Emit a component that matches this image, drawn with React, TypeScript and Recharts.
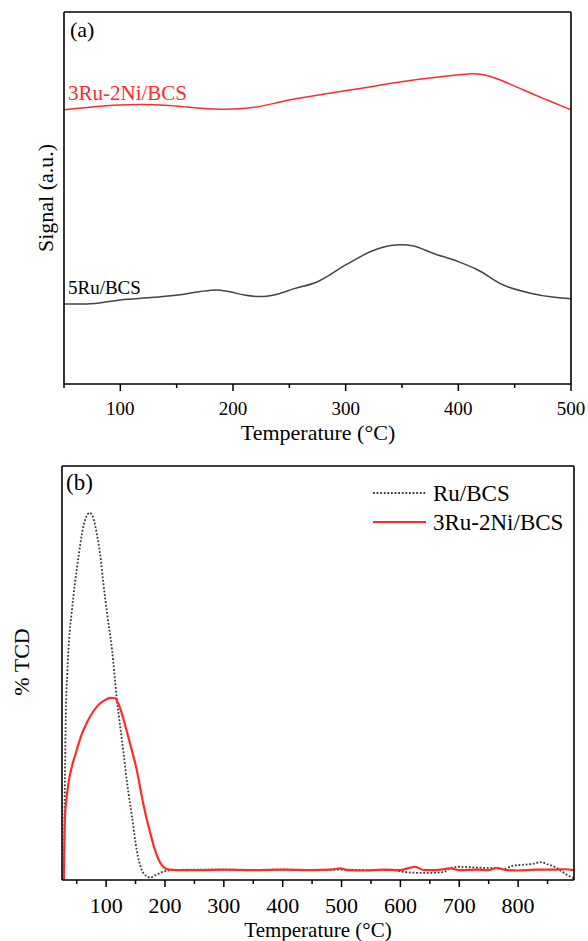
import React from 'react';
import { LineChart, Line, XAxis, YAxis, Legend } from 'recharts';

// (a) upper panel: signal vs temperature (arbitrary units, 0-100 box height)
const tempRedA = [50, 75, 100, 120, 140, 160, 175, 190, 205, 224, 242, 260, 277, 295, 313, 330, 348, 375, 400, 412, 422, 434, 458, 475, 500];
const signalRedA = [73.7, 74.5, 75.1, 75.2, 75.0, 74.4, 74.0, 73.85, 73.9, 74.5, 75.9, 76.9, 77.8, 78.6, 79.4, 80.3, 81.2, 82.3, 83.1, 83.5, 83.3, 82.2, 79.0, 76.8, 73.7];

const tempBlackA = [50, 70, 100, 130, 153, 170, 185, 197, 210, 224, 240, 253, 275, 300, 324, 340, 350, 360, 378, 400, 417, 440, 464, 485, 500];
const signalBlackA = [21.5, 21.5, 22.6, 23.3, 24.0, 24.8, 25.3, 24.8, 23.9, 23.5, 24.2, 25.5, 27.5, 32.0, 35.8, 37.2, 37.4, 37.1, 35.1, 32.9, 30.7, 26.6, 24.4, 23.3, 22.9];

const ticksA = [50, 100, 150, 200, 250, 300, 350, 400, 450, 500];

// (b) lower panel: % TCD vs temperature
const tempRuB = [28, 30, 31.5, 34, 37, 41, 47, 53, 59, 65, 72, 78, 84, 90, 95, 102, 110, 118, 129, 136, 144, 152, 160, 168, 175, 186, 197, 214, 250, 300, 350, 400, 450, 500, 550, 583, 600, 617, 645, 673, 685, 700, 730, 764, 775, 790, 810, 825, 838, 850, 866, 880, 895];
const tcdRuB = [0, 25, 40, 50, 58, 64, 71.7, 78, 83.7, 87.3, 88.7, 87.5, 83.7, 78.5, 72, 64, 55.6, 44, 31.4, 23, 15.3, 7.2, 2.6, 1.0, 0.6, 1.3, 2.0, 2.4, 2.5, 2.5, 2.4, 2.5, 2.4, 2.5, 2.4, 2.4, 2.1, 1.8, 1.7, 1.9, 2.9, 3.2, 3.0, 2.8, 2.6, 3.4, 3.7, 3.9, 4.3, 3.8, 2.9, 1.5, 0.4];

const tempNiB = [28, 29, 30, 33, 36, 42, 50, 58, 67, 78, 90, 100, 107, 115, 120, 126.5, 133, 140.6, 152, 163, 175, 186, 197, 207, 220, 260, 300, 350, 400, 450, 480, 498, 510, 540, 570, 600, 625, 640, 660, 685, 700, 730, 750, 764, 780, 800, 830, 860, 880, 895];
const tcdNiB = [0, 8, 15.3, 20, 23.4, 27.5, 31.4, 35, 37.9, 40.7, 42.7, 43.6, 44.0, 43.9, 42.8, 40.3, 37, 33.0, 26.6, 18.5, 11.3, 6.0, 3.2, 2.5, 2.4, 2.4, 2.5, 2.4, 2.5, 2.4, 2.5, 2.8, 2.4, 2.3, 2.5, 2.4, 3.2, 2.4, 2.4, 2.8, 2.4, 2.5, 2.4, 2.9, 2.4, 2.3, 2.5, 2.5, 2.6, 2.4];

const ticksB = [50, 100, 150, 200, 250, 300, 350, 400, 450, 500, 550, 600, 650, 700, 750, 800, 850];

const FONT = 'Liberation Serif, DejaVu Serif, serif';
const RED = '#ff2a2a';
const DARK = '#444444';
const DOT = '#3a3a3a';

const toPoints = (xs: number[], ys: number[]) => xs.map((t, i) => ({ t, v: ys[i] }));

const makeTick = (fontSize: number, gap: number) => (props: any) => {
  const { x, y, payload } = props;
  const major = payload.value % 100 === 0;
  return (
    <g>
      <line x1={x} x2={x} y1={y} y2={y + (major ? 7 : 4)} stroke="#000" strokeWidth={1.5} />
      {major && (
        <text x={x} y={y + gap} textAnchor="middle" dominantBaseline="central" fontSize={fontSize} fontFamily={FONT} fill="#000">
          {payload.value}
        </text>
      )}
    </g>
  );
};

const LegendBox = () => (
  <svg width={215} height={60}>
    <line x1={0} x2={53} y1={15} y2={15} stroke={DOT} strokeWidth={1.8} strokeDasharray="1.8 1.8" />
    <text x={60} y={15} dominantBaseline="central" fontSize={23} fontFamily={FONT}>Ru/BCS</text>
    <line x1={0} x2={53} y1={44} y2={44} stroke={RED} strokeWidth={2} />
    <text x={60} y={44} dominantBaseline="central" fontSize={23} fontFamily={FONT}>3Ru-2Ni/BCS</text>
  </svg>
);

const abs = (left: number, top: number, fontSize: number, extra: React.CSSProperties = {}): React.CSSProperties => ({
  position: 'absolute',
  left,
  top,
  fontSize,
  fontFamily: FONT,
  lineHeight: 1,
  whiteSpace: 'nowrap',
  ...extra,
});

export default function App() {
  const redA = toPoints(tempRedA, signalRedA);
  const blackA = toPoints(tempBlackA, signalBlackA);
  const ruB = toPoints(tempRuB, tcdRuB);
  const niB = toPoints(tempNiB, tcdNiB);
  const axisStroke = { stroke: '#000', strokeWidth: 1.6 };

  return (
    <div style={{ position: 'absolute', left: 0, top: 0, width: 588, height: 941, background: '#fff', fontFamily: FONT }}>
      <div style={{ position: 'absolute', left: 0, top: 0 }}>
        <LineChart width={588} height={450} margin={{ top: 11, right: 16, bottom: 6, left: 63 }}>
          <XAxis dataKey="t" type="number" domain={[50, 500]} ticks={ticksA} interval={0} allowDataOverflow height={60}
            tickSize={0} tickMargin={0} tickLine={false} axisLine={axisStroke} tick={makeTick(19, 24)} />
          <XAxis xAxisId="top" orientation="top" dataKey="t" type="number" domain={[50, 500]} height={1} tick={false} tickLine={false} axisLine={axisStroke} />
          <YAxis type="number" domain={[0, 100]} width={1} tick={false} tickLine={false} axisLine={axisStroke} />
          <YAxis yAxisId="right" orientation="right" type="number" domain={[0, 100]} width={1} tick={false} tickLine={false} axisLine={axisStroke} />
          <Line data={redA} dataKey="v" type="basis" stroke={RED} strokeWidth={1.5} dot={false} isAnimationActive={false} />
          <Line data={blackA} dataKey="v" type="monotone" stroke={DARK} strokeWidth={1.5} dot={false} isAnimationActive={false} />
        </LineChart>
      </div>

      <div style={{ position: 'absolute', left: 0, top: 450 }}>
        <LineChart width={588} height={491} margin={{ top: 15, right: 13, bottom: 6, left: 61 }}>
          <XAxis dataKey="t" type="number" domain={[25, 895]} ticks={ticksB} interval={0} allowDataOverflow height={55}
            tickSize={0} tickMargin={0} tickLine={false} axisLine={axisStroke} tick={makeTick(22, 25)} />
          <XAxis xAxisId="top" orientation="top" dataKey="t" type="number" domain={[25, 895]} height={1} tick={false} tickLine={false} axisLine={axisStroke} />
          <YAxis type="number" domain={[0, 100]} width={1} tick={false} tickLine={false} axisLine={axisStroke} />
          <YAxis yAxisId="right" orientation="right" type="number" domain={[0, 100]} width={1} tick={false} tickLine={false} axisLine={axisStroke} />
          <Legend layout="vertical" align="center" verticalAlign="middle" content={() => <LegendBox />}
            wrapperStyle={{ position: 'absolute', left: 373, top: 28, width: 215, height: 60 }} />
          <Line data={ruB} dataKey="v" name="Ru/BCS" type="monotone" stroke={DOT} strokeWidth={1.8} strokeDasharray="1.8 1.8" dot={false} isAnimationActive={false} />
          <Line data={niB} dataKey="v" name="3Ru-2Ni/BCS" type="monotone" stroke={RED} strokeWidth={2.2} dot={false} isAnimationActive={false} />
        </LineChart>
      </div>

      {/* panel letters, series labels and axis titles */}
      <div style={abs(70, 30, 22, { transform: 'translateY(-50%)' })}>(a)</div>
      <div style={abs(68, 93, 21, { transform: 'translateY(-50%)', color: RED })}>3Ru-2Ni/BCS</div>
      <div style={abs(68, 287, 19, { transform: 'translateY(-50%)' })}>5Ru/BCS</div>
      <div style={abs(318, 433, 22, { transform: 'translate(-50%, -50%)' })}>Temperature (°C)</div>
      <div style={abs(46, 198, 22, { transform: 'translate(-50%, -50%) rotate(-90deg)' })}>Signal (a.u.)</div>

      <div style={abs(66, 482, 23, { transform: 'translateY(-50%)' })}>(b)</div>
      <div style={abs(318, 930, 21, { transform: 'translate(-50%, -50%)' })}>Temperature (°C)</div>
      <div style={abs(22, 662, 22, { transform: 'translate(-50%, -50%) rotate(-90deg)' })}>% TCD</div>
    </div>
  );
}
